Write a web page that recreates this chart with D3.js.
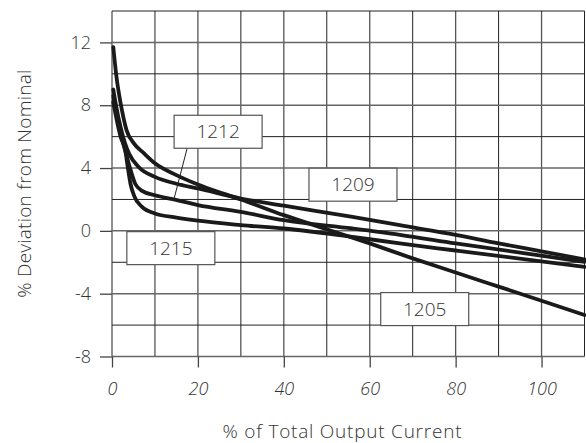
<!DOCTYPE html>
<html>
<head>
<meta charset="utf-8">
<script src="https://cdn.jsdelivr.net/npm/d3@7"></script>
<style>
  body { margin: 0; background: #fff; }
  text { font-family: "Open Sans", "Liberation Sans", sans-serif; font-weight: 300; fill: #333; }
</style>
</head>
<body>
<div id="chartid"></div>
<script>
/***** data *****/
var seriesNames = ["1205", "1209", "1212", "1215"];

// [% of total output current, % deviation]
var curve1205 = [[0.3, 11.7], [1, 9.9], [2.3, 7.7], [3.4, 6.4], [5, 5.6], [7.4, 4.95], [10, 4.3],
  [15, 3.55], [20, 2.95], [25, 2.45], [30, 2.0], [40, 1.0], [50, 0.1], [60, -0.8], [70, -1.75],
  [80, -2.65], [90, -3.55], [100, -4.45], [110, -5.36]];
var curve1209 = [[0.3, 9.0], [1, 7.9], [2, 6.6], [3, 5.6], [4, 4.9], [6.2, 4.07], [10, 3.44],
  [15, 3.0], [20, 2.7], [30, 2.06], [40, 1.6], [56, 0.89], [67, 0.36], [80, -0.25], [90, -0.8],
  [100, -1.3], [110, -1.82]];
var curve1212 = [[0.3, 8.6], [1, 7.5], [2, 6.2], [3.1, 5.1], [4.2, 4.0], [5.4, 3.0], [7, 2.55],
  [10, 2.27], [14.4, 2.0], [20, 1.64], [30, 1.21], [40, 0.68], [56, 0.15], [67, -0.25],
  [80, -0.8], [110, -1.97]];
var curve1215 = [[0.3, 8.2], [1, 7.2], [2, 6.0], [3.1, 5.1], [3.7, 4.0], [4.3, 3.0], [5.2, 2.2],
  [7, 1.53], [10, 1.11], [15, 0.85], [20, 0.65], [30, 0.37], [40, 0.15], [56, -0.38],
  [67, -0.8], [80, -1.25], [110, -2.29]];

var xTicks = [0, 20, 40, 60, 80, 100];
var yTicks = [-8, -4, 0, 4, 8, 12];

// label boxes: [name, center x, center y] in data units
var labelBoxes = [["1212", 24.7, 6.31], ["1209", 56.1, 2.94], ["1215", 13.7, -1.1], ["1205", 72.8, -4.98]];
// leader from 1212 box down to its curve
var leader1212 = [[17.5, 5.26], [14.4, 2.0]];

/***** chart *****/
var width = 586, height = 443;
var margin = {top: 11, right: 1.5, bottom: 86.5, left: 112};

var svg = d3.select("div#chartid")
  .append("svg")
  .attr("width", width)
  .attr("height", height);

var x = d3.scaleLinear()
  .domain([0, 110])
  .range([margin.left, width - margin.right]);
var y = d3.scaleLinear()
  .domain([-8, 14])
  .range([height - margin.bottom, margin.top]);

//grid
var grid = svg.append("g").attr("class", "grid");
grid.selectAll("line.v")
  .data(d3.range(0, 111, 10))
  .enter().append("line")
  .attr("x1", function(d) { return x(d); })
  .attr("x2", function(d) { return x(d); })
  .attr("y1", y(-8))
  .attr("y2", y(14))
  .attr("stroke", function(d) { return d % 20 == 0 ? "#555" : "#222"; })
  .attr("stroke-width", function(d) { return d % 20 == 0 ? 1.3 : 1; });
grid.selectAll("line.h")
  .data(d3.range(-8, 15, 2))
  .enter().append("line")
  .attr("x1", x(0))
  .attr("x2", x(110))
  .attr("y1", function(d) { return y(d); })
  .attr("y2", function(d) { return y(d); })
  .attr("stroke", function(d) { return d % 4 == 0 ? "#666" : "#222"; })
  .attr("stroke-width", function(d) { return d % 4 == 0 ? 1.5 : 1; });

//axes (plain hyphen for negatives)
var fmt = function(d) { return String(d); };
var xAxis = d3.axisBottom(x)
  .tickValues(xTicks)
  .tickFormat(fmt)
  .tickSizeInner(11)
  .tickSizeOuter(0)
  .tickPadding(15);
var yAxis = d3.axisLeft(y)
  .tickValues(yTicks)
  .tickFormat(fmt)
  .tickSizeInner(12)
  .tickSizeOuter(0)
  .tickPadding(9);

var gx = svg.append("g")
  .attr("transform", "translate(0," + y(-8) + ")")
  .call(xAxis);
var gy = svg.append("g")
  .attr("transform", "translate(" + x(0) + ",0)")
  .call(yAxis);

[gx, gy].forEach(function(g) {
  g.select(".domain").remove();
  g.selectAll(".tick line").attr("stroke", "#444").attr("stroke-width", 1.3);
  g.selectAll(".tick text")
    .style("font-size", "18px")
    .style("font-family", "'Open Sans', sans-serif")
    .style("font-weight", 300)
    .attr("fill", "#333");
});
gx.selectAll(".tick text").style("font-style", "italic");

//axis titles
svg.append("text")
  .attr("x", 342)
  .attr("y", 438)
  .attr("text-anchor", "middle")
  .attr("textLength", 239)
  .style("font-size", "19px")
  .text("% of Total Output Current");
svg.append("text")
  .attr("transform", "translate(31," + (y(-8) + y(14)) / 2 + ") rotate(-90)")
  .attr("text-anchor", "middle")
  .attr("textLength", 228)
  .style("font-size", "19px")
  .text("% Deviation from Nominal");

//curves
var line = d3.line()
  .x(function(d) { return x(d[0]); })
  .y(function(d) { return y(d[1]); })
  .curve(d3.curveMonotoneX);

svg.append("g")
  .selectAll("path")
  .data([curve1205, curve1209, curve1212, curve1215])
  .enter().append("path")
  .attr("d", line)
  .attr("fill", "none")
  .attr("stroke", "#1a1a1a")
  .attr("stroke-width", 3.8)
  .attr("stroke-linecap", "round");

//leader line
svg.append("path")
  .attr("d", d3.line().x(function(d) { return x(d[0]); }).y(function(d) { return y(d[1]); })(leader1212))
  .attr("stroke", "#222")
  .attr("stroke-width", 1);

//label boxes
var boxW = 88, boxH = 33;
var boxes = svg.append("g")
  .selectAll("g")
  .data(labelBoxes)
  .enter().append("g")
  .attr("transform", function(d) { return "translate(" + x(d[1]) + "," + y(d[2]) + ")"; });
boxes.append("rect")
  .attr("x", -boxW / 2)
  .attr("y", -boxH / 2)
  .attr("width", boxW)
  .attr("height", boxH)
  .attr("fill", "#fff")
  .attr("stroke", "#555")
  .attr("stroke-width", 1.2);
boxes.append("text")
  .attr("text-anchor", "middle")
  .attr("dy", "0.35em")
  .style("font-size", "19px")
  .text(function(d) { return d[0]; });
</script>
</body>
</html>
